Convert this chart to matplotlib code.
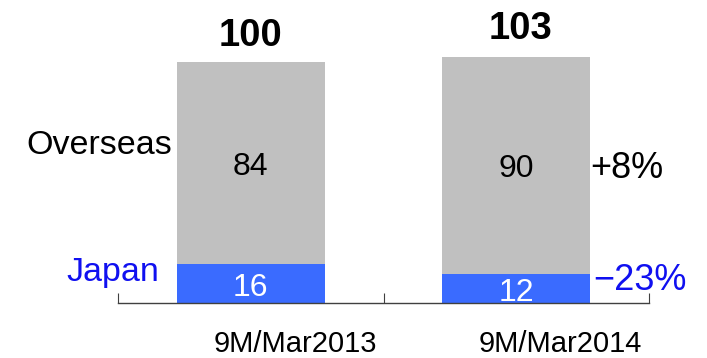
import matplotlib.pyplot as plt
import numpy as np

periods = ["9M/Mar2013", "9M/Mar2014"]
japan = [16, 12]
overseas = [84, 90]
totals = [100, 103]
overseas_change = "+8%"
japan_change = "\u221223%"

GRAY = "#C0C0C0"
BLUE = "#3A6BFF"
TEXT_BLUE = "#1010F0"

plt.rcParams["font.family"] = ["Liberation Sans", "DejaVu Sans"]


def main():
    fig = plt.figure(figsize=(7.07, 3.58), dpi=100)
    ax = fig.add_axes([0.167, 0.154, 0.751, 0.774])
    x = np.arange(len(periods))
    w = 0.557

    ax.bar(x, japan, width=w, color=BLUE, linewidth=0)
    ax.bar(x, overseas, width=w, bottom=japan, color=GRAY, linewidth=0)

    for i in x:
        ax.text(i, japan[i] / 2 - 2.0, str(japan[i]), color="white",
                ha="center", va="center", fontsize=23)
        ax.text(i, japan[i] + overseas[i] / 2 - 1.6, str(overseas[i]),
                color="black", ha="center", va="center", fontsize=23)
        ax.text(i + 0.015 * i, totals[i] + 10.8, str(totals[i]),
                color="black", ha="center", va="center", fontsize=27.5,
                fontweight="bold", clip_on=False)
        ax.text(i + 0.167, -17.1, periods[i], ha="center", va="center",
                fontsize=21, clip_on=False)

    # series labels on the left, growth rates on the right
    ax.text(-0.295, 65.5, "Overseas", ha="right", va="center", fontsize=24.5)
    ax.text(-0.345, 12.5, "Japan", ha="right", va="center", fontsize=24.5,
            color=TEXT_BLUE)
    ax.text(1.28, 55.8, overseas_change, ha="left", va="center",
            fontsize=26, clip_on=False)
    ax.text(1.29, 9.4, japan_change, ha="left", va="center", fontsize=26,
            color=TEXT_BLUE, clip_on=False)

    ax.set_xlim(-0.5, 1.5)
    ax.set_ylim(0, 115)
    for s in ["top", "left", "right"]:
        ax.spines[s].set_visible(False)
    ax.spines["bottom"].set_color("#404040")
    ax.spines["bottom"].set_linewidth(1)
    ax.set_yticks([])
    ax.set_xticks([-0.5, 0.5, 1.5])
    ax.set_xticklabels([])
    ax.tick_params(axis="x", direction="in", length=7, color="#404040")

    fig.savefig("out.png", dpi=100)


if __name__ == "__main__":
    main()
